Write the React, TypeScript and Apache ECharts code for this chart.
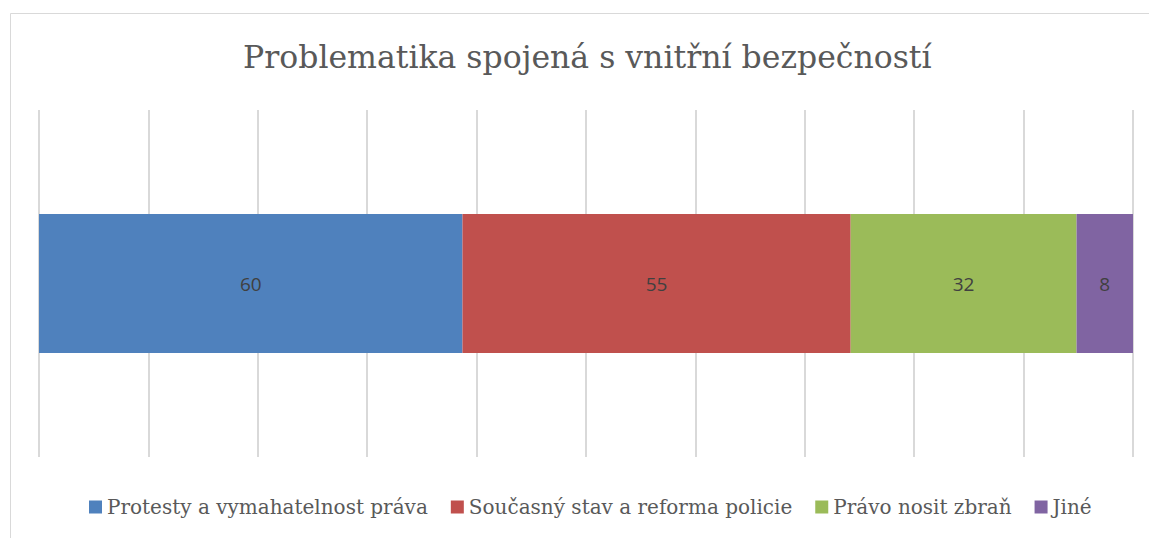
import React, { useEffect, useRef } from "react";
import * as echarts from "echarts";

const title = "Problematika spojená s vnitřní bezpečností";
const categories = ["Problematika"];
const seriesNames = [
  "Protesty a vymahatelnost práva",
  "Současný stav a reforma policie",
  "Právo nosit zbraň",
  "Jiné",
];
const seriesValues = [60, 55, 32, 8];
const colors = ["#4F81BD", "#C0504D", "#9BBB59", "#8064A2"];

export default function App() {
  const ref = useRef<HTMLDivElement>(null);
  useEffect(() => {
    if (!ref.current) return;
    const chart = echarts.init(ref.current, undefined, { renderer: "svg" });
    const total = seriesValues.reduce((a, b) => a + b, 0);
    chart.setOption({
      animation: false,
      backgroundColor: "#ffffff",
      title: {
        text: title,
        left: 238,
        top: 36,
        textStyle: {
          fontFamily: "DejaVu Serif",
          fontSize: 31.5,
          fontWeight: "normal",
          color: "#595959",
        },
      },
      graphic: [
        {
          type: "rect",
          shape: { x: 10.5, y: 13.5, width: 1200, height: 600 },
          style: { fill: "none", stroke: "#D9D9D9", lineWidth: 1 },
          silent: true,
        },
      ],
      legend: {
        bottom: 16,
        left: 84,
        itemWidth: 13,
        itemHeight: 13,
        itemGap: 23,
        icon: "rect",
        textStyle: {
          fontFamily: "DejaVu Serif",
          fontSize: 20,
          color: "#595959",
        },
        data: seriesNames,
      },
      grid: { left: 39, right: 16, top: 110, bottom: 81 },
      xAxis: {
        type: "value",
        min: 0,
        max: total,
        interval: total / 10,
        axisLabel: { show: false },
        axisLine: { show: false },
        axisTick: { show: false },
        splitLine: { show: true, lineStyle: { color: "#D9D9D9", width: 2 } },
      },
      yAxis: {
        type: "category",
        data: categories,
        axisLabel: { show: false },
        axisLine: { show: false },
        axisTick: { show: false },
      },
      series: seriesNames.map((name, i) => ({
        name,
        type: "bar",
        stack: "total",
        barWidth: 139,
        itemStyle: { color: colors[i] },
        label: {
          show: true,
          position: "inside",
          fontFamily: "Open Sans",
          fontSize: 19,
          color: "#404040",
        },
        data: [seriesValues[i]],
      })),
    });
    return () => chart.dispose();
  }, []);
  return (
    <div
      ref={ref}
      style={{ position: "fixed", left: 0, top: 0, width: 1149, height: 538 }}
    />
  );
}
